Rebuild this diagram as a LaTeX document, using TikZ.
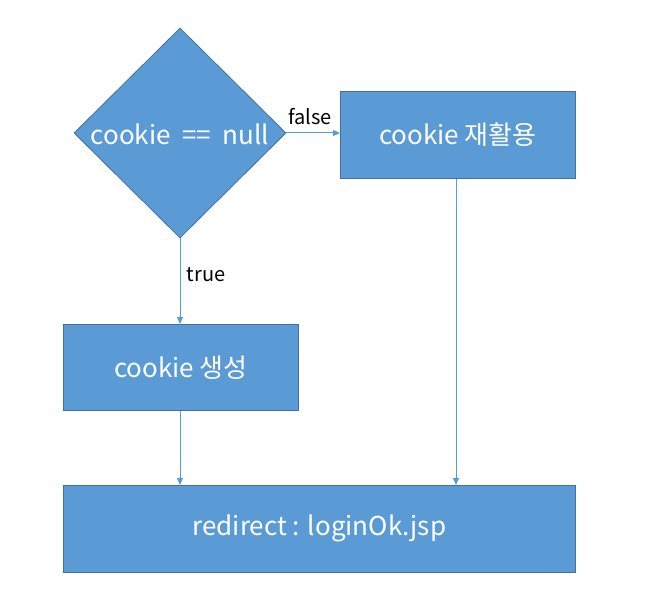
\documentclass[tikz,border=0pt]{standalone}
\usepackage{fontspec}
\setmainfont{Noto Sans CJK KR}
\usetikzlibrary{shapes.geometric,arrows.meta}
\definecolor{boxfill}{HTML}{5B9BD5}
\definecolor{boxline}{HTML}{41719C}
\tikzset{
  procbox/.style={draw=boxline, fill=boxfill, line width=0.8pt, inner sep=0pt, anchor=north west},
  decbox/.style={draw=boxline, fill=boxfill, line width=0.8pt, diamond, inner sep=0pt, minimum width=212pt, minimum height=210pt, aspect=1.01},
  boxtext/.style={text=white, font=\fontsize{26}{30}\selectfont, inner sep=0pt},
  conn/.style={draw=boxfill, line width=1pt, -{Triangle[length=7pt,width=6pt]}},
  lbl/.style={font=\fontsize{20}{24}\selectfont, text=black, inner sep=1pt}
}
\begin{document}
\begin{tikzpicture}[x=1pt,y=-1pt]
\useasboundingbox (0,0) rectangle (670,601);
\node[decbox] (dec) at (180,133) {};
\node[boxtext] (dectext) at (180,134) {cookie\ \ ==\ \ null};
\node[procbox, minimum width=235pt, minimum height=87pt] (reuse) at (340,91) {};
\node[boxtext] (reusetext) at (reuse.center) {cookie 재활용};
\node[procbox, minimum width=235pt, minimum height=86pt] (make) at (63,324) {};
\node[boxtext] (maketext) at (make.center) {cookie 생성};
\node[procbox, minimum width=512pt, minimum height=87pt] (redir) at (63,485) {};
\node[boxtext] (redirtext) at (redir.center) {redirect : loginOk.jsp};
\draw[conn] (dec.east) -- (reuse.west |- dec.east);
\node[lbl] (lfalse) at (310,117) {false};
\draw[conn] (dec.south) -- (make.north -| dec.south);
\node[lbl] (ltrue) at (206,275) {true};
\draw[conn] (make.south -| dec.south) -- (redir.north -| dec.south);
\coordinate (rx) at (456,178);
\draw[conn] (reuse.south -| rx) -- (redir.north -| rx);
\end{tikzpicture}
\end{document}
